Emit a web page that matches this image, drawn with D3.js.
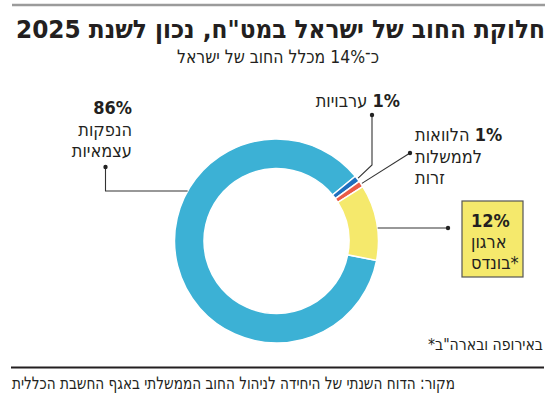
<!DOCTYPE html>
<html>
<head>
<meta charset="utf-8">
<script src="https://cdn.jsdelivr.net/npm/d3@7"></script>
<style>
  body { margin: 0; background: #fff; }
  text { font-family: "DejaVu Sans Condensed", "Liberation Sans", sans-serif; fill: #231f20; }
</style>
</head>
<body>
<svg width="559" height="408"></svg>
<script>
const width = 559;
const height = 408;

// data
const categories = ["הנפקות עצמאיות", "ערבויות", "הלוואות לממשלות זרות", "ארגון בונדס*"];
const values = [86, 1, 1, 12];
const valueLabels = ["86%", "1%", "1%", "12%"];
const colors = ["#3cb1d5", "#1f6fbe", "#ea5a47", "#f5e96c"];

const title = "חלוקת החוב של ישראל במט\"ח, נכון לשנת 2025";
const subtitle = "כ־14% מכלל החוב של ישראל";
const footnote = "באירופה ובארה\"ב*";
const source = "מקור: הדוח השנתי של היחידה לניהול החוב הממשלתי באגף החשבת הכללית";

const svg = d3.select("svg");

//--------------------header--------------------
svg.append("line")
    .attr("x1", 12).attr("x2", 545)
    .attr("y1", 5).attr("y2", 5)
    .attr("stroke", "#9b9b9b")
    .attr("stroke-width", 2.5);

svg.append("text")
    .attr("x", 280.5)
    .attr("y", 38)
    .attr("direction", "rtl")
    .attr("text-anchor", "middle")
    .attr("font-size", 25)
    .attr("font-weight", "bold")
    .attr("textLength", 529)
    .attr("lengthAdjust", "spacingAndGlyphs")
    .text(title);

svg.append("text")
    .attr("x", 278)
    .attr("y", 63)
    .attr("direction", "rtl")
    .attr("text-anchor", "middle")
    .attr("font-size", 18.5)
    .attr("textLength", 202)
    .attr("lengthAdjust", "spacingAndGlyphs")
    .text(subtitle);

//--------------------donut--------------------
const cx = 276.5;
const cy = 241;
const rOuter = 102;
const rInner = 72.5;
const start = 101 * Math.PI / 180;

const pie = d3.pie().sort(null).startAngle(start).endAngle(start + 2 * Math.PI);
const arcs = pie(values);
const arc = d3.arc().innerRadius(rInner).outerRadius(rOuter);

const g = svg.append("g").attr("transform", "translate(" + cx + "," + cy + ")");
g.selectAll("path")
    .data(arcs)
    .enter()
    .append("path")
    .attr("d", arc)
    .attr("fill", (d, i) => colors[i])
    .attr("stroke", "#fff")
    .attr("stroke-width", 1.5);

//point on outer edge at a slice's middle angle
function edgePoint(d, r) {
    const a = (d.startAngle + d.endAngle) / 2;
    return { x: cx + r * Math.sin(a), y: cy - r * Math.cos(a) };
}

function leader(points) {
    svg.append("path")
        .attr("d", d3.line()(points.map(p => [p.x, p.y])))
        .attr("fill", "none")
        .attr("stroke", "#333")
        .attr("stroke-width", 1.1);
    const end = points[points.length - 1];
    svg.append("circle")
        .attr("cx", end.x).attr("cy", end.y)
        .attr("r", 2.2)
        .attr("fill", "#222");
}

// 86% - elbow to the left
const y86 = 191;
const p86 = { x: cx - Math.sqrt(rOuter * rOuter - (cy - y86) * (cy - y86)), y: y86 };
leader([p86, { x: 105.5, y: y86 }, { x: 105.5, y: 167 }]);

// 1% guarantees
const pG = edgePoint(arcs[1], rOuter + 1);
leader([pG, { x: 372, y: 165 }, { x: 372, y: 115 }]);

// 1% loans
const pL = edgePoint(arcs[2], rOuter + 1);
leader([pL, { x: 410, y: 153 }]);

// 12% bonds
const y12 = 228;
const p12 = { x: cx + Math.sqrt(rOuter * rOuter - (cy - y12) * (cy - y12)), y: y12 };
leader([p12, { x: 448, y: y12 }]);

//--------------------labels--------------------
function labelLines(x, y0, anchor, lines, lh) {
    const t = svg.append("text")
        .attr("direction", "rtl")
        .attr("text-anchor", anchor)
        .attr("font-size", 18);
    lines.forEach((ln, i) => {
        const row = t.append("tspan")
            .attr("x", x)
            .attr("y", y0 + i * lh);
        ln.forEach(part => {
            row.append("tspan")
                .attr("font-weight", part.b ? "bold" : "normal")
                .text(part.t);
        });
    });
}

labelLines(132, 114, "start", [
    [{ t: valueLabels[0], b: true }],
    [{ t: "הנפקות" }],
    [{ t: "עצמאיות" }]
], 21.5);

labelLines(400, 107, "start", [
    [{ t: valueLabels[1], b: true }, { t: " " + categories[1] }]
], 21);

labelLines(415, 141, "end", [
    [{ t: valueLabels[2], b: true }, { t: " הלוואות" }],
    [{ t: "לממשלות" }],
    [{ t: "זרות" }]
], 21.5);

svg.append("rect")
    .attr("x", 462).attr("y", 201)
    .attr("width", 61).attr("height", 76)
    .attr("fill", colors[3])
    .attr("stroke", "#555")
    .attr("stroke-width", 1.2);

labelLines(471, 227, "end", [
    [{ t: valueLabels[3], b: true }],
    [{ t: "ארגון" }],
    [{ t: "*בונדס" }]
], 21);

//--------------------footer--------------------
svg.append("text")
    .attr("x", 543)
    .attr("y", 350)
    .attr("direction", "rtl")
    .attr("text-anchor", "start")
    .attr("font-size", 16)
    .attr("textLength", 115)
    .attr("lengthAdjust", "spacingAndGlyphs")
    .text(footnote);

svg.append("line")
    .attr("x1", 11).attr("x2", 544)
    .attr("y1", 367.5).attr("y2", 367.5)
    .attr("stroke", "#231f20")
    .attr("stroke-width", 2);

svg.append("text")
    .attr("x", 12)
    .attr("y", 389)
    .attr("direction", "rtl")
    .attr("text-anchor", "end")
    .attr("font-size", 17)
    .attr("textLength", 443)
    .attr("lengthAdjust", "spacingAndGlyphs")
    .text(source);
</script>
</body>
</html>
